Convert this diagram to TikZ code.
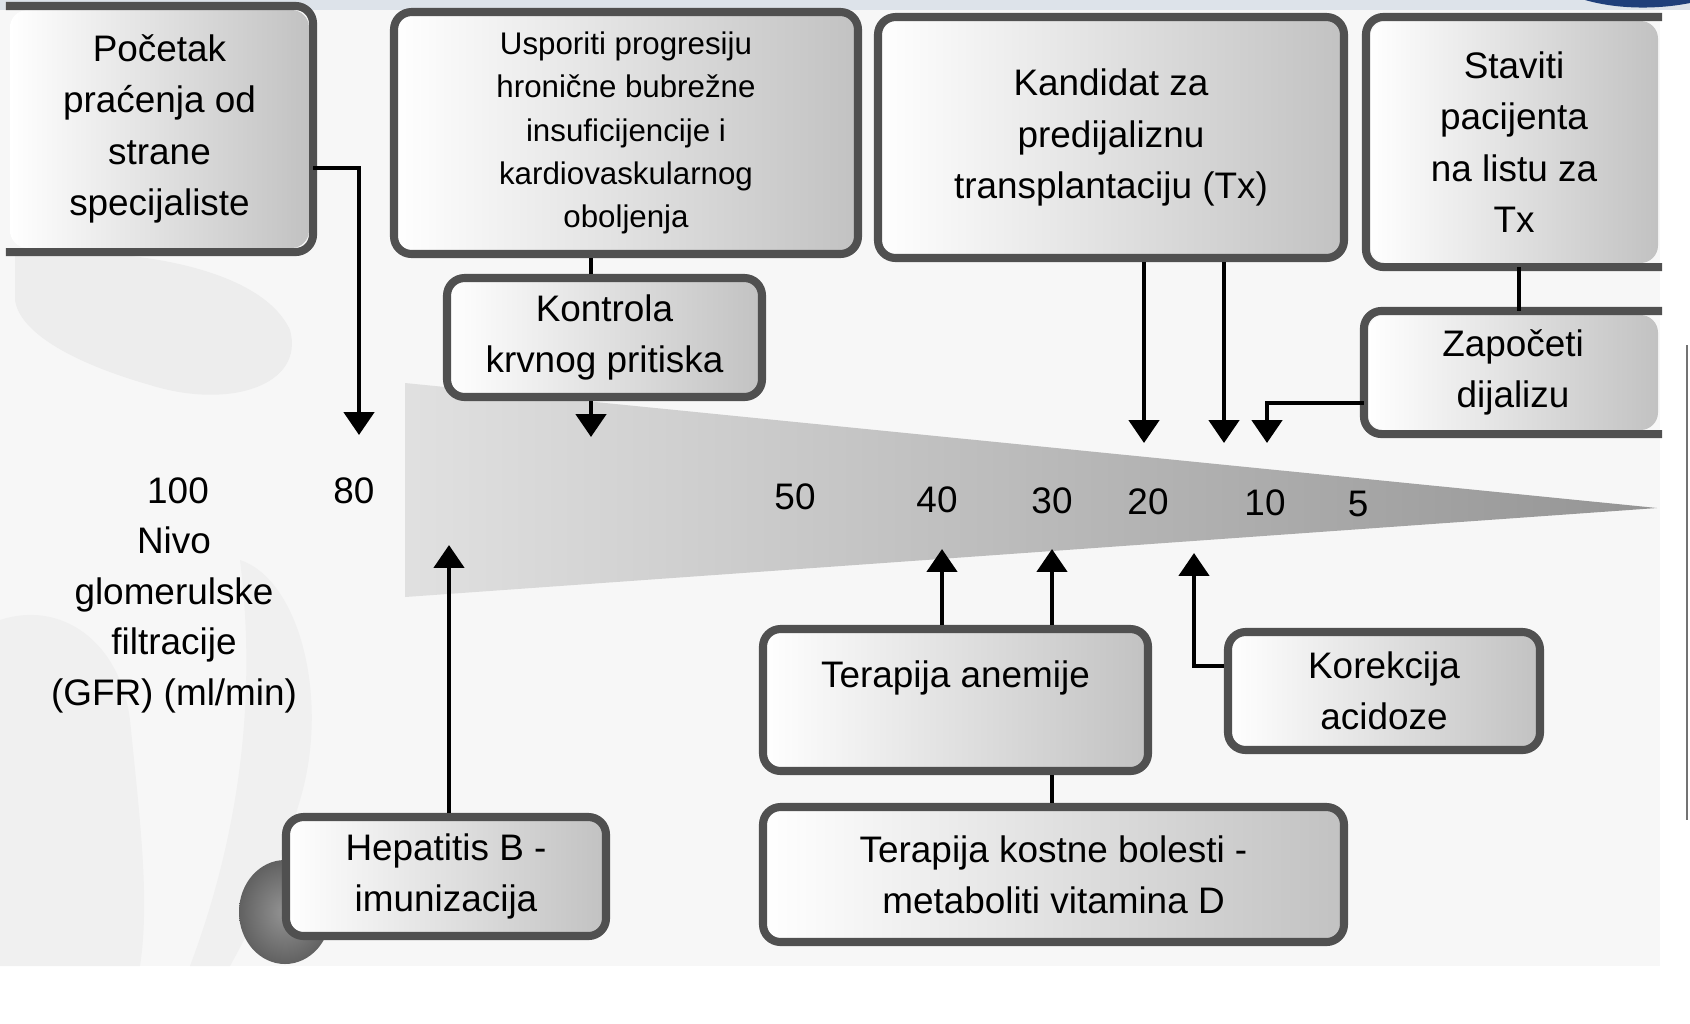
\documentclass[tikz,border=0pt]{standalone}
\usepackage{fontspec}
\setmainfont{Liberation Sans}
\usetikzlibrary{arrows.meta,calc}
\definecolor{topband}{HTML}{DDE3EA}
\definecolor{swoosh}{HTML}{1F3F7A}
\definecolor{bordc}{HTML}{505050}
\begin{document}
\begin{tikzpicture}[x=0.1mm,y=-0.1mm,
  box/.style={rectangle, rounded corners=5pt, draw=bordc, line width=2.3pt,
    left color=white, right color=black!24, align=center, inner sep=0pt,
    font=\fontsize{10.5}{14.6}\selectfont},
  openbox/.style={box, draw=none},
  bord/.style={draw=bordc, line width=2.3pt, rounded corners=5pt},
  conn/.style={line width=1.3pt, black},
  arr/.style={conn, -{Triangle[width=8.5pt,length=6.5pt]}},
  lbl/.style={inner sep=0pt, align=center, font=\fontsize{10.5}{14.4}\selectfont},
]
\useasboundingbox (0,0) rectangle (1690,1023);
% ---------- background ----------
\fill[black!3] (0,10) rectangle (1660,966);
\fill[topband] (0,0) rectangle (1690,10);
\fill[swoosh] (1585,0) .. controls (1620,10) and (1660,9) .. (1690,3) -- (1690,0) -- cycle;
\draw[black!55, line width=0.6pt] (1687,345) -- (1687,820);
% faint illustration on the left
\fill[black!7] (15,255) .. controls (120,245) and (260,265) .. (290,330)
  .. controls (305,385) and (230,410) .. (150,385)
  .. controls (80,365) and (20,335) .. (15,300) -- cycle;
\fill[black!6] (0,620) .. controls (60,600) and (120,640) .. (130,720)
  .. controls (140,820) and (150,900) .. (140,966) -- (0,966) -- cycle;
\fill[black!6] (240,560) .. controls (300,580) and (330,700) .. (300,800)
  .. controls (280,870) and (250,930) .. (230,966) -- (190,966)
  .. controls (230,860) and (260,720) .. (240,560) -- cycle;
\shade[inner color=black!42, outer color=black!62] (285,912) ellipse (46 and 52);
% ---------- GFR wedge ----------
\shade[left color=black!12, right color=black!42] (405,383) -- (1657,508) -- (405,597) -- cycle;
% ---------- scale labels ----------
\node[lbl] (n100) at (178,491) {100};
\node[lbl] (n80)  at (354,491) {80};
\node[lbl] (n50)  at (795,497) {50};
\node[lbl] (n40)  at (937,500) {40};
\node[lbl] (n30)  at (1052,501) {30};
\node[lbl] (n20)  at (1148,502) {20};
\node[lbl] (n10)  at (1265,503) {10};
\node[lbl] (n5)   at (1358,504) {5};
\node[lbl] (gfr)  at (174,620) {Nivo\\glomerulske\\filtracije\\(GFR) (ml/min)};
% ---------- boxes ----------
\node[openbox, minimum width=29.9mm, minimum height=23.8mm] (pocetak) at (159.5,129)
  {Početak\\praćenja od\\strane\\specijaliste};
\draw[bord] (pocetak.north west) -- (pocetak.north east) -- (pocetak.south east) -- (pocetak.south west);
\node[box, minimum width=46.4mm, minimum height=24.2mm,
  font=\fontsize{8.9}{12.3}\selectfont] (usporiti) at (626,133)
  {Usporiti progresiju\\hronične bubrežne\\insuficijencije i\\kardiovaskularnog\\oboljenja};
\node[box, minimum width=31.5mm, minimum height=11.9mm] (kontrola) at (604.5,337.5)
  {Kontrola\\krvnog pritiska};
\node[box, minimum width=46.6mm, minimum height=24.1mm] (kandidat) at (1111,137.5)
  {Kandidat za\\predijaliznu\\transplantaciju (Tx)};
\node[openbox, minimum width=28.8mm, minimum height=24.2mm] (staviti) at (1514,142)
  {Staviti\\pacijenta\\na listu za\\Tx};
\draw[bord] (staviti.north east) -- (staviti.north west) -- (staviti.south west) -- (staviti.south east);
\node[openbox, minimum width=29.0mm, minimum height=11.5mm] (zapoceti) at (1513,372.5)
  {Započeti\\dijalizu};
\draw[bord] (zapoceti.north east) -- (zapoceti.north west) -- (zapoceti.south west) -- (zapoceti.south east);
\node[box, minimum width=32.0mm, minimum height=11.9mm] (hepatitis) at (446,876.5)
  {Hepatitis B -\\imunizacija};
\node[box, minimum width=38.5mm, minimum height=14.2mm] (anemije) at (955.5,700)
  {Terapija anemije\\\mbox{}};
\node[box, minimum width=58.1mm, minimum height=13.5mm] (kostne) at (1053.5,874.5)
  {Terapija kostne bolesti -\\metaboliti vitamina D};
\node[box, minimum width=31.2mm, minimum height=11.8mm] (korekcija) at (1384,691)
  {Korekcija\\acidoze};
% ---------- connector ends ----------
\coordinate (t80) at (359,435);
\coordinate (tK)  at (591,437);
\coordinate (tA)  at (1144,443);
\coordinate (tB)  at (1224,443);
\coordinate (sz)  at (1519,300);
\coordinate (t10) at (1267,443);
\coordinate (tH)  at (449,545);
\coordinate (t40) at (942,549);
\coordinate (t30) at (1052,549);
\coordinate (tKa) at (1194,553);
% ---------- connectors ----------
\draw[arr] ([yshift=-3.9mm]pocetak.east) -| (t80);
\draw[conn] (usporiti.south -| tK) -- (kontrola.north -| tK);
\draw[arr] (kontrola.south -| tK) -- (tK);
\draw[arr] (kandidat.south -| tA) -- (tA);
\draw[arr] (kandidat.south -| tB) -- (tB);
\draw[conn] (staviti.south -| sz) -- (zapoceti.north -| sz);
\draw[arr] ([yshift=-3.05mm]zapoceti.west) -| (t10);
\draw[arr] (hepatitis.north -| tH) -- (tH);
\draw[arr] (anemije.north -| t40) -- (t40);
\draw[arr] (anemije.north -| t30) -- (t30);
\draw[conn] (anemije.south -| t30) -- (kostne.north -| t30);
\draw[arr] ([yshift=2.5mm]korekcija.west) -| (tKa);
\end{tikzpicture}
\end{document}
